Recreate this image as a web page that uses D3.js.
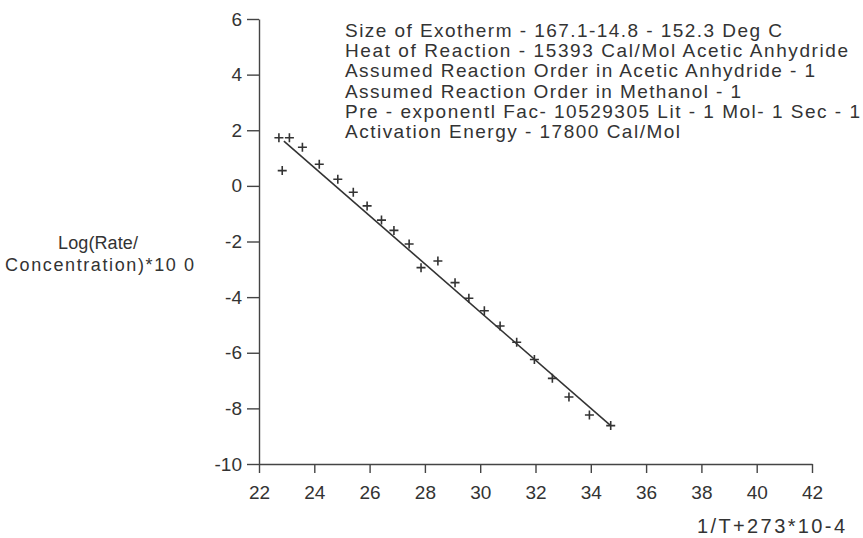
<!DOCTYPE html>
<html><head><meta charset="utf-8">
<script src="https://cdn.jsdelivr.net/npm/d3@7"></script>
<style>
body{margin:0;background:#fff;}
svg{display:block;font-family:"Liberation Sans",Arial,sans-serif;}
</style></head>
<body><svg id="c" width="863" height="538"></svg>
<script>
const xValues = [22.72,23.10,22.84,23.57,24.18,24.85,25.41,25.91,26.43,26.88,27.43,27.86,28.47,29.09,29.59,30.15,30.72,31.32,31.96,32.61,33.21,33.95,34.72];
const yValues = [1.73,1.73,0.55,1.39,0.78,0.24,-0.23,-0.72,-1.23,-1.60,-2.09,-2.94,-2.70,-3.48,-4.04,-4.49,-5.04,-5.62,-6.24,-6.92,-7.59,-8.24,-8.62];
const fitX = [22.90, 34.72];
const fitY = [1.61, -8.62];
const xTicks = [22,24,26,28,30,32,34,36,38,40,42];
const yTicks = [6,4,2,0,-2,-4,-6,-8,-10];
const notes = [
 "Size of Exotherm - 167.1-14.8 - 152.3 Deg C",
 "Heat of Reaction - 15393 Cal/Mol Acetic Anhydride",
 "Assumed Reaction Order in Acetic Anhydride - 1",
 "Assumed Reaction Order in Methanol - 1",
 "Pre - exponentl Fac- 10529305 Lit - 1 Mol- 1 Sec - 1",
 "Activation Energy - 17800 Cal/Mol"
];
const noteWidths = [437, 503, 470, 396, 515, 335];
const yTitle = ["Log(Rate/", "Concentration)*10 0"];
const yTitleWidths = [80, 189];
const xTitle = "1/T+273*10-4";

const svg = d3.select("#c");
const ink = "#333";
const x = d3.scaleLinear().domain([22,42]).range([259,812]);
const y = d3.scaleLinear().domain([-10,6]).range([464,19]);

const xa = svg.append("g").attr("transform","translate(0,464)")
  .call(d3.axisBottom(x).tickValues(xTicks).tickSize(9).tickSizeOuter(0).tickPadding(13).tickFormat(d3.format("d")));
const ya = svg.append("g").attr("transform","translate(259,0)")
  .call(d3.axisLeft(y).tickValues(yTicks).tickSize(12).tickSizeOuter(0).tickPadding(5).tickFormat(d=>d<0?"-"+Math.abs(d):d));
[xa,ya].forEach(a=>{
  a.selectAll("path,line").attr("stroke","#444").attr("stroke-width",1.4);
  a.selectAll("text").attr("fill",ink).style("font-size","19px");
});

// fit line
svg.append("line")
  .attr("x1",x(fitX[0])).attr("y1",y(fitY[0]))
  .attr("x2",x(fitX[1])).attr("y2",y(fitY[1]))
  .attr("stroke","#333").attr("stroke-width",1.6);

// plus markers
const pts = xValues.map((v,i)=>[v,yValues[i]]);
svg.append("g").selectAll("path").data(pts).join("path")
  .attr("d",d=>{const px=x(d[0]),py=y(d[1]),s=4.5;return `M${px-s},${py}H${px+s}M${px},${py-s}V${py+s}`;})
  .attr("stroke","#333").attr("stroke-width",1.6).attr("fill","none");

// notes
svg.append("g").selectAll("text").data(notes).join("text")
  .attr("x",345).attr("y",(d,i)=>37+i*20.2)
  .attr("fill",ink).style("font-size","19px")
  .attr("textLength",(d,i)=>noteWidths[i]).attr("lengthAdjust","spacing")
  .text(d=>d);

// y title
svg.append("g").selectAll("text").data(yTitle).join("text")
  .attr("x",(d,i)=>i===0?58:5).attr("y",(d,i)=>249+i*22)
  .attr("fill",ink).style("font-size","18px")
  .attr("textLength",(d,i)=>yTitleWidths[i]).attr("lengthAdjust","spacing")
  .text(d=>d);

svg.append("text").attr("x",697).attr("y",533)
  .attr("fill",ink).style("font-size","20px")
  .attr("textLength",148).attr("lengthAdjust","spacing").text(xTitle);
</script></body></html>
